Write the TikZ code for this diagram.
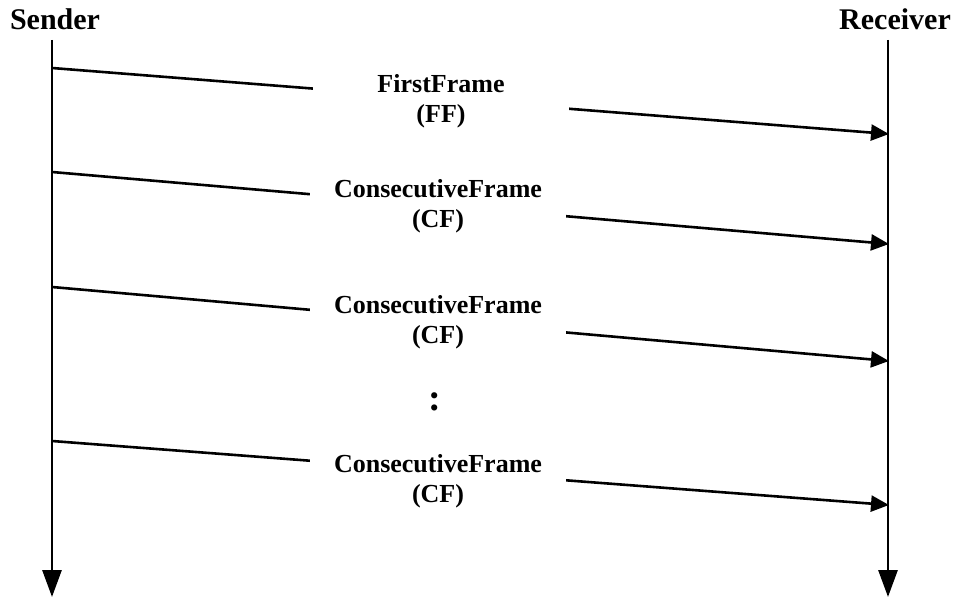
\documentclass[tikz,border=0pt]{standalone}
\usepackage{fontspec}
\setmainfont{Liberation Serif}
\usetikzlibrary{arrows.meta}

\begin{document}
\begin{tikzpicture}[x=1pt, y=-1pt,
        lifeline/.style={line width=2.9pt, -{Triangle[length=27pt, width=19pt]}},
        msg/.style={line width=2.6pt, -{Triangle[length=18pt, width=16pt]}},
        party/.style={font=\fontsize{30}{34}\selectfont\bfseries, inner sep=0pt},
        frame/.style={fill=white, minimum width=256pt, inner sep=0pt, align=center, font=\fontsize{26}{30}\selectfont\bfseries}
    ]
        \useasboundingbox (0,0) rectangle (956,601);

        % the two parties and their time axes
        \node[party, anchor=base] (sender) at (55,30) {Sender};
        \node[party, anchor=base] (receiver) at (895,30) {Receiver};
        \coordinate (stop) at (52,40);
        \coordinate (sbot) at (52,597);
        \coordinate (rtop) at (888,40);
        \coordinate (rbot) at (888,597);
        \draw[lifeline] (stop) -- (sbot);
        \draw[lifeline] (rtop) -- (rbot);

        % end points of the frames
        \coordinate (s1) at (52,68);   \coordinate (r1) at (889,134);
        \coordinate (s2) at (52,172);  \coordinate (r2) at (889,244);
        \coordinate (s3) at (52,287);  \coordinate (r3) at (889,361);
        \coordinate (s4) at (52,441);  \coordinate (r4) at (889,505);

        \draw[msg] (s1) -- (r1);
        \draw[msg] (s2) -- (r2);
        \draw[msg] (s3) -- (r3);
        \draw[msg] (s4) -- (r4);

        % labels sit on top and break the lines
        \node[frame] (ff) at (441,101) {FirstFrame\\(FF)};
        \node[frame] (cf1) at (438,206) {ConsecutiveFrame\\(CF)};
        \node[frame] (cf2) at (438,322) {ConsecutiveFrame\\(CF)};
        \node[frame] (cf3) at (438,481) {ConsecutiveFrame\\(CF)};
        \node[font=\fontsize{38}{38}\selectfont\bfseries] (dots) at (435,402) {:};
    \end{tikzpicture}
\end{document}
